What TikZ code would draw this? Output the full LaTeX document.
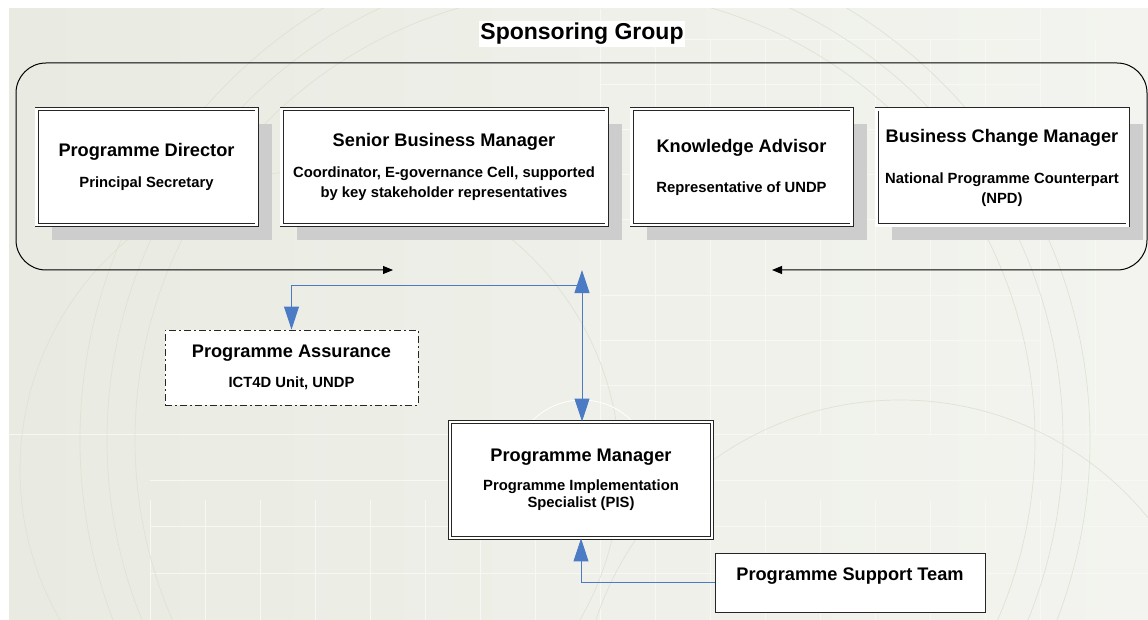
\documentclass[tikz,border=0pt]{standalone}
\usepackage{fontspec}
\setmainfont{Liberation Sans}
\usetikzlibrary{arrows.meta,shadows}

% colours
\definecolor{bgleft}{HTML}{E9EBE2}
\definecolor{bgright}{HTML}{F3F4EF}
\definecolor{arcgreen}{HTML}{DCE4D3}
\definecolor{gridline}{HTML}{F7F8F4}
\definecolor{shadowgray}{HTML}{CDCDCD}
\definecolor{linkblue}{HTML}{4A7BC4}

% heading text inside a box; the box font sets the smaller lines
\newcommand\hdtext[1]{{\fontsize{18.2}{20}\selectfont #1}}

\begin{document}
\begin{tikzpicture}[x=1pt,y=-1pt,
  boxfont/.style={font=\fontsize{14.8}{20}\selectfont\bfseries},
  rolebox/.style={draw=black!85, fill=white, double, double distance=2.2pt,
    line width=0.9pt, minimum width=#1, minimum height=116pt,
    align=center, inner sep=2pt, boxfont,
    general shadow={fill=shadowgray, shadow xshift=15pt, shadow yshift=-15pt}},
  pmbox/.style={draw=black!85, fill=white, double, double distance=2.2pt,
    line width=0.9pt, minimum width=262pt, minimum height=116pt,
    align=center, inner sep=2pt, boxfont},
  assurebox/.style={draw=black!85, fill=white, line width=0.9pt,
    dash pattern=on 7pt off 3pt on 2pt off 3pt,
    minimum width=253pt, minimum height=75pt, align=center, boxfont},
  teambox/.style={draw=black!85, fill=white, line width=1pt,
    minimum width=270pt, minimum height=59pt},
  frameline/.style={draw=black, line width=1pt,
    {Triangle[length=10pt,width=8pt]}-{Triangle[length=10pt,width=8pt]}},
  bluelink/.style={draw=linkblue, line width=1pt},
  bluetip/.tip={Triangle[length=23pt,width=15pt]},
  bgarc/.style={draw=arcgreen, line width=0.7pt},
  bggrid/.style={draw=gridline, line width=1pt}
]
\useasboundingbox (0,0) rectangle (1148,620);

% backdrop
\shade[left color=bgleft, right color=bgright] (9,9) rectangle (1148,620);
\begin{scope}
  \clip (9,9) rectangle (1148,620);
  % faint grid
  \foreach \gx in {150,205,260,315,370,425,480,535,600,655,710,765,820,875,930,985,1040}
    \draw[bggrid] (\gx,500) -- (\gx,620);
  \foreach \gy in {434,480,526,573}
    \draw[bggrid] (150,\gy) -- (1148,\gy);
  \draw[bggrid] (9,434) -- (150,434);
  \foreach \gx in {600,655,710,765,820,875,930,985,1040,1095}
    \draw[bggrid] (\gx,40) -- (\gx,434);
  \foreach \gy in {40,85,130,175,220,295,340,385}
    \draw[bggrid] (600,\gy) -- (1040,\gy);
  \draw[bggrid] (600,9) -- (600,40);
  \draw[bggrid] (1040,9) -- (1040,434);
  % faint concentric arcs
  \foreach \r in {450,478,505}
    \draw[bgarc] (585,440) circle (\r);
  \draw[bgarc] (320,470) circle (300);
  \draw[bgarc] (900,720) circle (320);
  \draw[white, line width=0.8pt] (582,470) circle (70);
  \draw[white, line width=0.8pt] (582,470) circle (48);
\end{scope}

% title
\node[fill=white, inner xsep=1pt, inner ysep=2pt] (title) at (582,34)
  {\fontsize{23}{26}\selectfont\bfseries Sponsoring Group};

% sponsoring group frame
\coordinate (frameR) at (393,270);
\coordinate (frameL) at (772,270);
\draw[frameline, rounded corners=30pt]
  (frameR) -- (16,270) -- (16,63) -- (1147,63) -- (1147,270) -- (frameL);

% sponsoring group roles
\node[rolebox=220pt] (director) at (146.5,167)
  {\hdtext{Programme Director}\\[11pt]Principal Secretary};
\node[rolebox=325pt] (sbm) at (444,167)
  {\hdtext{Senior Business Manager}\\[11pt]
   Coordinator, E-governance Cell, supported\\
   by key stakeholder representatives};
\node[rolebox=220pt] (advisor) at (741.5,167)
  {\hdtext{Knowledge Advisor}\\[20pt]Representative of UNDP};
\node[rolebox=251pt] (bcm) at (1002,167.5)
  {\hdtext{Business Change Manager}\\[21pt]
   National Programme Counterpart\\
   (NPD)};

% assurance, manager and support team
\node[assurebox] (assurance) at (291.5,367.5)
  {\hdtext{Programme Assurance}\\[10pt]ICT4D Unit, UNDP};
\node[pmbox] (manager) at (581,480)
  {\hdtext{Programme Manager}\\[9pt]
   Programme Implementation\\[-3pt]
   Specialist (PIS)};
\node[teambox] (team) at (850,582.5) {};
\node[anchor=center, font=\bfseries] (teamlabel) at (850,576)
  {\hdtext{Programme Support Team}};

% reporting links
\coordinate (sgBottom) at (582,270);
\coordinate (branch) at (582,286);
\draw[bluelink, bluetip-bluetip] (sgBottom) -- (manager.north -| sgBottom);
\draw[bluelink, -bluetip] (branch) -- (branch -| assurance.north) -- (assurance.north);
\draw[bluelink, -bluetip] (team.west) -- (team.west -| manager.south) -- (manager.south);
\end{tikzpicture}
\end{document}
